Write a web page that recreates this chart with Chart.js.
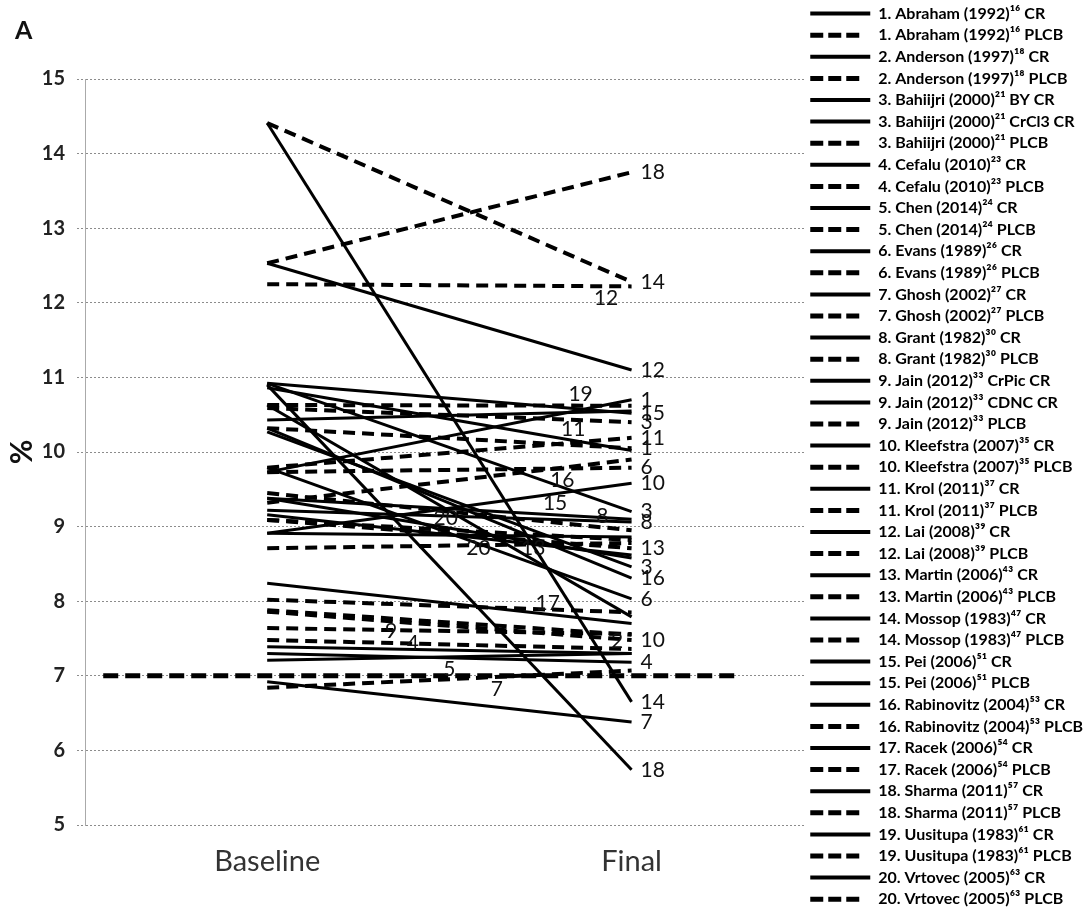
<!DOCTYPE html>
<html>
<head>
<meta charset="utf-8">
<script src="https://cdn.jsdelivr.net/npm/chart.js@4.4.1/dist/chart.umd.min.js"></script>
<style>
  body { margin: 0; background: #fff; }
  #wrap { position: relative; width: 1085px; height: 920px; }
  #panel { position: absolute; left: 15px; top: 14px; font: bold 25px Lato, sans-serif; color: #111; }
</style>
</head>
<body>
<div id="wrap">
  <canvas id="chart" width="1085" height="920"></canvas>
  <div id="panel">A</div>
</div>
<script>
// time points on the x axis
const xLabels = ["Baseline", "Final"];

// one entry per legend row (study arm)
const seriesNames = [
  "1. Abraham (1992)¹⁶ CR", "1. Abraham (1992)¹⁶ PLCB",
  "2. Anderson (1997)¹⁸ CR", "2. Anderson (1997)¹⁸ PLCB",
  "3. Bahiijri (2000)²¹ BY CR", "3. Bahiijri (2000)²¹ CrCl3 CR", "3. Bahiijri (2000)²¹ PLCB",
  "4. Cefalu (2010)²³ CR", "4. Cefalu (2010)²³ PLCB",
  "5. Chen (2014)²⁴ CR", "5. Chen (2014)²⁴ PLCB",
  "6. Evans (1989)²⁶ CR", "6. Evans (1989)²⁶ PLCB",
  "7. Ghosh (2002)²⁷ CR", "7. Ghosh (2002)²⁷ PLCB",
  "8. Grant (1982)³⁰ CR", "8. Grant (1982)³⁰ PLCB",
  "9. Jain (2012)³³ CrPic CR", "9. Jain (2012)³³ CDNC CR", "9. Jain (2012)³³ PLCB",
  "10. Kleefstra (2007)³⁵ CR", "10. Kleefstra (2007)³⁵ PLCB",
  "11. Krol (2011)³⁷ CR", "11. Krol (2011)³⁷ PLCB",
  "12. Lai (2008)³⁹ CR", "12. Lai (2008)³⁹ PLCB",
  "13. Martin (2006)⁴³ CR", "13. Martin (2006)⁴³ PLCB",
  "14. Mossop (1983)⁴⁷ CR", "14. Mossop (1983)⁴⁷ PLCB",
  "15. Pei (2006)⁵¹ CR", "15. Pei (2006)⁵¹ PLCB",
  "16. Rabinovitz (2004)⁵³ CR", "16. Rabinovitz (2004)⁵³ PLCB",
  "17. Racek (2006)⁵⁴ CR", "17. Racek (2006)⁵⁴ PLCB",
  "18. Sharma (2011)⁵⁷ CR", "18. Sharma (2011)⁵⁷ PLCB",
  "19. Uusitupa (1983)⁶¹ CR", "19. Uusitupa (1983)⁶¹ PLCB",
  "20. Vrtovec (2005)⁶³ CR", "20. Vrtovec (2005)⁶³ PLCB"
];
const studyNumbers = [1,1,2,2,3,3,3,4,4,5,5,6,6,7,7,8,8,9,9,9,10,10,11,11,12,12,13,13,14,14,15,15,16,16,17,17,18,18,19,19,20,20];
const arms = ["CR","PLCB","CR","PLCB","CR","CR","PLCB","CR","PLCB","CR","PLCB","CR","PLCB","CR","PLCB","CR","PLCB",
  "CR","CR","PLCB","CR","PLCB","CR","PLCB","CR","PLCB","CR","PLCB","CR","PLCB","CR","PLCB","CR","PLCB","CR","PLCB",
  "CR","PLCB","CR","PLCB","CR","PLCB"];

// HbA1c (%) at baseline and at the end of each arm
const baselineValues = [9.73, 10.32, 7.39, 7.48, 10.92, 10.27, 10.59, 7.30, 7.64, 7.21, 8.71, 9.79, 9.73, 6.92, 6.84,
  9.22, 9.45, 9.16, 9.38, 7.88, 8.91, 7.86, 10.86, 9.79, 12.53, 12.25, 10.63, 9.09, 14.41, 14.41, 10.92, 9.38,
  10.32, 9.32, 8.24, 8.02, 10.90, 12.53, 10.43, 10.63, 8.91, 9.09];
const finalValues = [10.70, 10.05, 7.30, 7.36, 9.20, 8.46, 10.40, 7.18, 7.56, 7.30, 8.78, 8.03, 9.79, 6.38, 7.07,
  9.06, 8.95, 8.62, 8.58, 7.55, 9.58, 7.48, 10.02, 10.19, 11.10, 12.22, 7.79, 8.71, 6.65, 12.28, 10.52, 9.10,
  8.31, 9.90, 7.70, 7.85, 5.74, 13.75, 10.55, 10.62, 8.86, 8.82];

// 7% target line
const targetValue = 7;
const targetSpan = [0.55, 2.3];

// Pei's placebo arm is drawn solid in the original
const isDashed = (i) => arms[i] === "PLCB" && studyNumbers[i] !== 15;

// where each study number is written: [fraction along the line, side]
const labelSpots = [
  [1,"end"], [1,"end"], [0.96,"above"], null, [1,"end"], [1,"end"], [1,"end"], [1,"end"], [0.4,"below"],
  [0.5,"below"], null, [1,"end"], [1,"end"], [1,"end"], [0.63,"below"], [1,"end"], [0.92,"above"], null, null,
  [0.34,"below"], [1,"end"], [1,"end"], [0.84,"above"], [1,"end"], [1,"end"], [0.93,"below"], [0.73,"above"],
  [1,"end"], [1,"end"], [1,"end"], [1,"end"], [0.79,"above"], [1,"end"], [0.81,"below"], [0.77,"above"], null,
  [1,"end"], [1,"end"], null, [0.86,"above"], [0.58,"below"], [0.49,"above"]
];

const studyLabels = {
  id: "studyLabels",
  afterDatasetsDraw(chart) {
    const { ctx, scales: { x, y } } = chart;
    ctx.save();
    ctx.font = "21px Lato";
    ctx.fillStyle = "#111";
    labelSpots.forEach((spot, i) => {
      if (!spot) return;
      const [t, side] = spot;
      const v = baselineValues[i] + t * (finalValues[i] - baselineValues[i]);
      const px = x.getPixelForValue(1 + t), py = y.getPixelForValue(v);
      const txt = String(studyNumbers[i]);
      if (side === "end") {
        ctx.textAlign = "left"; ctx.textBaseline = "middle";
        ctx.fillText(txt, px + 9, py);
      } else {
        ctx.textAlign = "center";
        ctx.textBaseline = side === "above" ? "bottom" : "top";
        ctx.fillText(txt, px, side === "above" ? py - 1 : py + 2);
      }
    });
    ctx.restore();
  }
};

Chart.defaults.font.family = "Lato";

let datasets = seriesNames.map((name, i) => ({
  label: name,
  data: [{ x: 1, y: baselineValues[i] }, { x: 2, y: finalValues[i] }],
  borderColor: "#000",
  borderWidth: isDashed(i) ? 4 : 3,
  borderDash: isDashed(i) ? [12, 7] : [],
  pointRadius: 0,
  tension: 0
}));
datasets.push({
  label: "target",
  data: targetSpan.map(v => ({ x: v, y: targetValue })),
  borderColor: "#000",
  borderWidth: 5,
  borderDash: [15, 7],
  pointRadius: 0
});

// negative side padding widens the room the layout allows the legend
new Chart(document.getElementById("chart"), {
  type: "line",
  data: { datasets: datasets },
  options: {
    responsive: false,
    animation: false,
    devicePixelRatio: 1,
    layout: { padding: { left: -70, right: -8 } },
    scales: {
      x: {
        type: "linear", min: 0.5, max: 2.475,
        afterBuildTicks: (s) => { s.ticks = xLabels.map((_, i) => ({ value: i + 1 })); },
        afterFit: (s) => { s.height = 95; },
        ticks: { callback: (v) => xLabels[v - 1] || "", font: { size: 29 }, color: "#333", padding: 19, autoSkip: false, maxRotation: 0 },
        grid: { display: false, drawTicks: false },
        border: { display: false }
      },
      y: {
        min: 5, max: 15,
        afterFit: (s) => { s.width = 155; },
        ticks: { stepSize: 1, font: { size: 20, weight: "bold" }, color: "#222", padding: 12 },
        grid: { color: "#8c8c8c", lineWidth: 1, tickLength: 8, tickBorderDash: [2, 2] },
        border: { display: true, color: "#aaa", width: 1, dash: [2, 2] },
        title: { display: true, text: "%", font: { size: 30, weight: "bold" }, color: "#111", padding: { top: 74, bottom: 0 } }
      }
    },
    plugins: {
      title: { display: true, text: "", fullSize: false, font: { size: 79, lineHeight: 1 }, padding: 0 },
      tooltip: { enabled: false },
      legend: {
        position: "right",
        align: "start",
        labels: {
          usePointStyle: true,
          pointStyleWidth: 60,
          padding: 5.6,
          color: "#000",
          font: { size: 16, weight: "bold" },
          generateLabels: () => seriesNames.map((name, i) => ({
            text: name,
            datasetIndex: i,
            fillStyle: "rgba(0,0,0,0)",
            strokeStyle: "#000",
            fontColor: "#000",
            lineWidth: isDashed(i) ? 5 : 4,
            lineDash: isDashed(i) ? [13, 5, 13, 5, 13, 11] : [],
            pointStyle: "line",
            hidden: false
          }))
        }
      }
    }
  },
  plugins: [studyLabels]
});
</script>
</body>
</html>
